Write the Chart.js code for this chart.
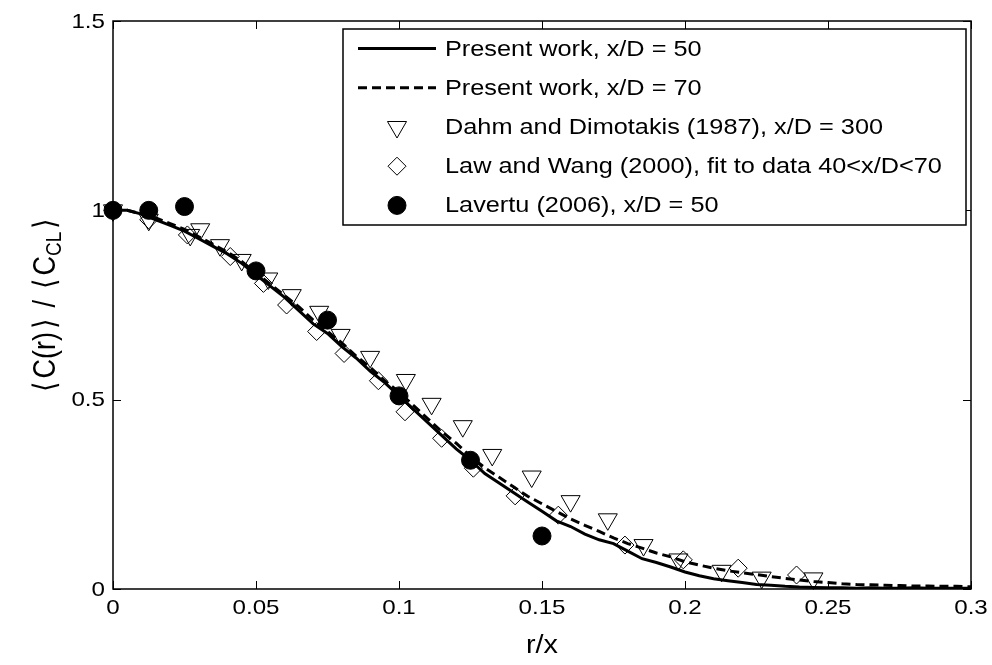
<!DOCTYPE html>
<html>
<head>
<meta charset="utf-8">
<script src="https://cdn.jsdelivr.net/npm/chart.js@4.4.1/dist/chart.umd.min.js"></script>
<style>
  html, body { margin: 0; padding: 0; background: #fff; }
  #chart { display: block; }
</style>
</head>
<body>
<canvas id="chart" width="992" height="665"></canvas>
<script>
// radial profiles, present work
const profileR = [0, 0.005, 0.01, 0.015, 0.02, 0.025, 0.03, 0.035, 0.04, 0.045,
  0.05, 0.055, 0.06, 0.065, 0.07, 0.075, 0.08, 0.085, 0.09, 0.095,
  0.1, 0.105, 0.11, 0.115, 0.12, 0.125, 0.13, 0.135, 0.14, 0.145,
  0.15, 0.155, 0.16, 0.165, 0.17, 0.175, 0.18, 0.185, 0.19, 0.195,
  0.2, 0.205, 0.21, 0.215, 0.22, 0.225, 0.23, 0.235, 0.24, 0.245,
  0.25, 0.255, 0.26, 0.265, 0.27, 0.275, 0.28, 0.285, 0.29, 0.295, 0.3];
const present50 = [1.0, 1.0, 0.99, 0.975, 0.96, 0.945, 0.925, 0.905, 0.885, 0.86,
  0.83, 0.80, 0.77, 0.735, 0.70, 0.675, 0.64, 0.61, 0.575, 0.545,
  0.51, 0.475, 0.44, 0.405, 0.37, 0.34, 0.305, 0.28, 0.255, 0.23,
  0.205, 0.18, 0.165, 0.145, 0.13, 0.12, 0.10, 0.08, 0.07, 0.058,
  0.045, 0.035, 0.027, 0.022, 0.017, 0.012, 0.01, 0.007, 0.005, 0.004,
  0.003, 0.003, 0.002, 0.003, 0.002, 0.002, 0.003, 0.002, 0.002, 0.002, 0.002];
const present70 = [1.0, 1.0, 0.99, 0.98, 0.965, 0.95, 0.93, 0.91, 0.89, 0.865,
  0.835, 0.805, 0.775, 0.745, 0.71, 0.68, 0.65, 0.615, 0.585, 0.55,
  0.52, 0.485, 0.45, 0.415, 0.385, 0.35, 0.32, 0.295, 0.27, 0.245,
  0.225, 0.205, 0.185, 0.168, 0.152, 0.135, 0.12, 0.108, 0.095, 0.085,
  0.072, 0.063, 0.055, 0.048, 0.043, 0.038, 0.033, 0.028, 0.024, 0.02,
  0.017, 0.014, 0.012, 0.011, 0.01, 0.009, 0.008, 0.008, 0.007, 0.007, 0.006];

// Dahm and Dimotakis (1987)
const dahmR = [0, 0.0125, 0.027, 0.0305, 0.0374, 0.045, 0.0543, 0.0625, 0.0721, 0.0796,
  0.0899, 0.1024, 0.1114, 0.1223, 0.1326, 0.1464, 0.16, 0.173, 0.1855, 0.1977,
  0.2128, 0.2268, 0.2449];
const dahmC = [1.0, 0.975, 0.935, 0.95, 0.908, 0.869, 0.82, 0.776, 0.732, 0.671,
  0.613, 0.552, 0.489, 0.43, 0.354, 0.297, 0.232, 0.184, 0.116, 0.078,
  0.048, 0.03, 0.028];

// Law and Wang (2000)
const lawR = [0, 0.0125, 0.026, 0.041, 0.0526, 0.0607, 0.0712, 0.0808, 0.0928, 0.1021,
  0.1149, 0.126, 0.1406, 0.1557, 0.179, 0.1994, 0.2186, 0.239];
const lawC = [1.0, 0.975, 0.935, 0.878, 0.807, 0.75, 0.68, 0.622, 0.55, 0.468,
  0.398, 0.319, 0.246, 0.195, 0.116, 0.077, 0.055, 0.037];

// Lavertu (2006)
const lavR = [0, 0.0125, 0.025, 0.05, 0.075, 0.1, 0.125, 0.15];
const lavC = [1.0, 1.0, 1.01, 0.84, 0.71, 0.51, 0.34, 0.14];

const seriesNames = [
  'Present work, x/D = 50',
  'Present work, x/D = 70',
  'Dahm and Dimotakis (1987), x/D = 300',
  'Law and Wang (2000), fit to data 40<x/D<70',
  'Lavertu (2006), x/D = 50'
];

const xTickValues = [0, 0.05, 0.1, 0.15, 0.2, 0.25, 0.3];
const xTickLabels = ['0', '0.05', '0.1', '0.15', '0.2', '0.25', '0.3'];
const yTickValues = [0, 0.5, 1, 1.5];
const yTickLabels = ['0', '0.5', '1', '1.5'];

const FONT = "'Liberation Sans', Arial, sans-serif";
const SX = 1.15; // the exported figure text is a bit wide

const toPoints = (xs, ys) => xs.map((x, i) => ({ x: x, y: ys[i] }));

// draw text widened horizontally by SX
function wideText(ctx, text, x, y, align) {
  const w = ctx.measureText(text).width * SX;
  let left = x;
  if (align === 'center') left = x - w / 2;
  else if (align === 'right') left = x - w;
  ctx.save();
  ctx.translate(left, y);
  ctx.scale(SX, 1);
  ctx.textAlign = 'left';
  ctx.fillText(text, 0, 0);
  ctx.restore();
}

// frame, inward ticks on all four sides and tick labels (matlab look)
const framePlugin = {
  id: 'frame',
  beforeDatasetsDraw(chart) {
    const { ctx, chartArea: a, scales } = chart;
    ctx.save();
    ctx.strokeStyle = '#000';
    ctx.lineWidth = 1;
    const len = 8;
    ctx.beginPath();
    xTickValues.forEach(v => {
      const px = Math.round(scales.x.getPixelForValue(v)) + 0.5;
      ctx.moveTo(px, a.bottom); ctx.lineTo(px, a.bottom - len);
      ctx.moveTo(px, a.top); ctx.lineTo(px, a.top + len);
    });
    yTickValues.forEach(v => {
      const py = Math.round(scales.y.getPixelForValue(v)) + 0.5;
      ctx.moveTo(a.left, py); ctx.lineTo(a.left + len, py);
      ctx.moveTo(a.right, py); ctx.lineTo(a.right - len, py);
    });
    ctx.stroke();
    ctx.lineWidth = 1.5;
    ctx.strokeRect(a.left, a.top, a.right - a.left, a.bottom - a.top);

    ctx.fillStyle = '#000';
    ctx.font = '21px ' + FONT;
    ctx.textBaseline = 'top';
    xTickValues.forEach((v, i) => {
      wideText(ctx, xTickLabels[i], scales.x.getPixelForValue(v), a.bottom + 9, 'center');
    });
    ctx.textBaseline = 'middle';
    yTickValues.forEach((v, i) => {
      wideText(ctx, yTickLabels[i], a.left - 8, scales.y.getPixelForValue(v) + 1, 'right');
    });
    ctx.restore();
  }
};

// axis titles and the boxed legend
const annotatePlugin = {
  id: 'annotate',
  afterDraw(chart) {
    const { ctx, chartArea: a } = chart;
    ctx.save();
    ctx.fillStyle = '#000';

    // x title
    ctx.font = '25px ' + FONT;
    ctx.textBaseline = 'middle';
    wideText(ctx, 'r/x', (a.left + a.right) / 2, 646, 'center');

    // y title with subscript
    ctx.save();
    ctx.translate(46, (a.top + a.bottom) / 2);
    ctx.rotate(-Math.PI / 2);
    ctx.scale(1, SX);
    const big = '27px ' + FONT, small = '19px ' + FONT;
    const parts = [
      { t: '\u27E8', f: big, dy: 0, pad: 3 },
      { t: 'C(r)', f: big, dy: 0, pad: 0 },
      { t: '\u27E9', f: big, dy: 0, pad: 3 },
      { t: ' / ', f: big, dy: 0, pad: 0 },
      { t: '\u27E8', f: big, dy: 0, pad: 3 },
      { t: 'C', f: big, dy: 0, pad: 0 },
      { t: 'CL', f: small, dy: 8, pad: 0 },
      { t: '\u27E9', f: big, dy: 0, pad: 3 }
    ];
    let total = 0;
    parts.forEach(p => { ctx.font = p.f; p.w = ctx.measureText(p.t).width + 2 * p.pad; total += p.w; });
    let cx = -total / 2;
    ctx.textAlign = 'left';
    ctx.textBaseline = 'middle';
    parts.forEach(p => { ctx.font = p.f; ctx.fillText(p.t, cx + p.pad, p.dy); cx += p.w; });
    ctx.restore();

    // legend
    const box = { left: 343, top: 29, right: 966, bottom: 225 };
    ctx.fillStyle = '#fff';
    ctx.fillRect(box.left, box.top, box.right - box.left, box.bottom - box.top);
    ctx.strokeStyle = '#000';
    ctx.lineWidth = 1.5;
    ctx.strokeRect(box.left, box.top, box.right - box.left, box.bottom - box.top);
    const rowH = (box.bottom - box.top) / seriesNames.length;
    const sx0 = 358, sx1 = 436, tx = 445;
    chart.data.datasets.forEach((ds, i) => {
      const y = box.top + rowH * (i + 0.5);
      if (ds.showLine) {
        ctx.save();
        ctx.strokeStyle = ds.borderColor;
        ctx.lineWidth = ds.borderWidth;
        ctx.setLineDash(ds.borderDash || []);
        ctx.beginPath();
        ctx.moveTo(sx0, y); ctx.lineTo(sx1, y);
        ctx.stroke();
        ctx.restore();
      } else {
        ctx.save();
        ctx.strokeStyle = ds.pointBorderColor;
        ctx.fillStyle = ds.pointBackgroundColor;
        ctx.lineWidth = ds.pointBorderWidth;
        Chart.helpers.drawPoint(ctx, {
          pointStyle: ds.pointStyle,
          rotation: ds.pointRotation || 0,
          radius: ds.pointRadius,
          borderWidth: ds.pointBorderWidth
        }, (sx0 + sx1) / 2, y);
        ctx.restore();
      }
      ctx.fillStyle = '#000';
      ctx.font = '22px ' + FONT;
      ctx.textBaseline = 'middle';
      wideText(ctx, ds.label, tx, y + 1, 'left');
    });
    ctx.restore();
  }
};

const ctx = document.getElementById('chart').getContext('2d');

new Chart(ctx, {
  type: 'scatter',
  data: {
    datasets: [
      {
        label: seriesNames[0],
        data: toPoints(profileR, present50),
        showLine: true,
        borderColor: '#000',
        borderWidth: 3,
        pointRadius: 0,
        order: 4
      },
      {
        label: seriesNames[1],
        data: toPoints(profileR, present70),
        showLine: true,
        borderColor: '#000',
        borderWidth: 3,
        borderDash: [9, 5],
        pointRadius: 0,
        order: 3
      },
      {
        label: seriesNames[2],
        data: toPoints(dahmR, dahmC),
        showLine: false,
        pointStyle: 'triangle',
        pointRotation: 180,
        pointRadius: 11,
        pointBorderWidth: 1,
        pointBorderColor: '#000',
        pointBackgroundColor: 'rgba(0,0,0,0)',
        clip: false,
        order: 2
      },
      {
        label: seriesNames[3],
        data: toPoints(lawR, lawC),
        showLine: false,
        pointStyle: 'rectRot',
        pointRadius: 9,
        pointBorderWidth: 1,
        pointBorderColor: '#000',
        pointBackgroundColor: 'rgba(0,0,0,0)',
        clip: false,
        order: 1
      },
      {
        label: seriesNames[4],
        data: toPoints(lavR, lavC),
        showLine: false,
        pointStyle: 'circle',
        pointRadius: 9,
        pointBorderWidth: 1,
        pointBorderColor: '#000',
        pointBackgroundColor: '#000',
        clip: false,
        order: 0
      }
    ]
  },
  options: {
    responsive: false,
    animation: false,
    layout: { padding: { top: 21, right: 21, left: 0, bottom: 0 } },
    plugins: {
      legend: { display: false },
      tooltip: { enabled: false }
    },
    scales: {
      x: {
        type: 'linear',
        min: 0,
        max: 0.3,
        grid: { display: false },
        border: { display: false },
        afterBuildTicks: scale => { scale.ticks = xTickValues.map(v => ({ value: v })); },
        afterFit: scale => { scale.height = 76; },
        ticks: { display: false }
      },
      y: {
        type: 'linear',
        min: 0,
        max: 1.5,
        grid: { display: false },
        border: { display: false },
        afterBuildTicks: scale => { scale.ticks = yTickValues.map(v => ({ value: v })); },
        afterFit: scale => { scale.width = 113; },
        ticks: { display: false }
      }
    }
  },
  plugins: [framePlugin, annotatePlugin]
});
</script>
</body>
</html>
